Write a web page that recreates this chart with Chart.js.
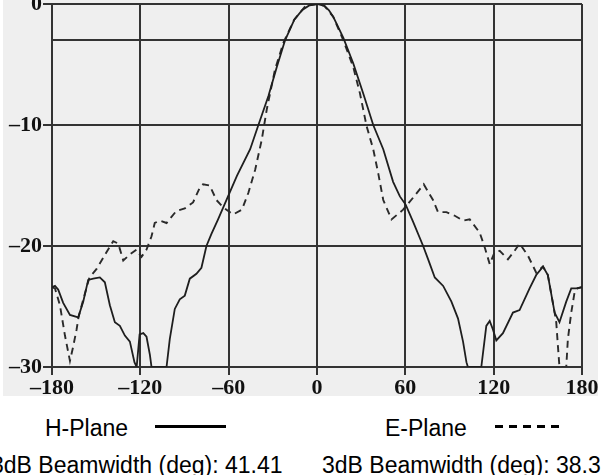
<!DOCTYPE html>
<html>
<head>
<meta charset="utf-8">
<script src="https://cdn.jsdelivr.net/npm/chart.js@4/dist/chart.umd.min.js"></script>
<style>
  html, body { margin: 0; padding: 0; background: #ffffff; width: 604px; height: 475px; overflow: hidden; position: relative; }
  #paper { position: absolute; left: 3px; top: 0; width: 595px; height: 396px; background: #efefef; }
  #c { position: absolute; left: 0; top: 0; }
  .txt { position: absolute; font-family: "Liberation Sans", Arial, sans-serif; font-size: 23px; color: #000; white-space: nowrap; line-height: 23px; }
  .solidSample { position: absolute; left: 155px; top: 425px; width: 71px; height: 3px; background: #000; }
  .dashSample { position: absolute; left: 495px; top: 425px; width: 64px; height: 3px;
    background: repeating-linear-gradient(to right, #000 0 8px, transparent 8px 14px); }
</style>
</head>
<body>
<div id="paper"></div>
<canvas id="c" width="604" height="400"></canvas>
<div class="txt" style="left:45px; top:417px;">H-Plane</div>
<div class="solidSample"></div>
<div class="txt" style="left:385px; top:417px;">E-Plane</div>
<div class="dashSample"></div>
<div class="txt" style="left:-9px; top:454px;">3dB Beamwidth (deg): 41.41</div>
<div class="txt" style="left:322px; top:454px;">3dB Beamwidth (deg): 38.3</div>
<script>
// Angle (deg) and level (dB)
const hAngles = [-180,-178,-175.8,-172.4,-167.8,-162.2,-158.8,-155.4,-152,-147.5,-144.1,-140.7,-137.3,-133.9,-130.5,-127.1,-124,-122.5,-120.5,-118,-115.8,-113.5,-112.4,-102.2,-100,-96.6,-93.2,-89.8,-86.4,-81.9,-78.5,-75.1,-71.7,-67.2,-60.8,-54.4,-45.4,-39.8,-33,-27.3,-21.7,-15.4,-10,-5,0,5,8,11,17.9,24.6,31.4,38.2,45,51.7,56.3,60.3,65.3,72.1,75.5,80,85.7,91.3,95.8,99.2,101.5,102.5,111.6,115,117.3,119.5,121.8,126.3,133.1,137.6,144.4,148.9,153.5,156.8,161.4,164.7,169.3,172.7,176.1,180];
const hValues = [-23.4,-23.3,-23.6,-24.7,-25.7,-25.9,-24.6,-22.8,-22.7,-22.6,-23.0,-24.9,-26.3,-26.6,-27.4,-27.9,-29.6,-30,-27.3,-27.2,-27.5,-29.0,-30,-30,-27.7,-25.2,-24.4,-24.1,-22.7,-22.3,-21.8,-20.0,-19.0,-17.8,-16.0,-14.2,-12.0,-10.0,-7.6,-5.2,-3.0,-1.3,-0.5,-0.1,0,-0.15,-0.5,-1.05,-2.8,-4.9,-7.4,-10.0,-12.0,-14.7,-15.9,-16.6,-18.0,-20.0,-21.1,-22.6,-23.3,-24.6,-26.0,-27.9,-29.6,-30,-30,-26.6,-26.2,-26.9,-27.8,-27.2,-25.5,-25.3,-23.5,-22.4,-21.7,-22.4,-25.5,-26.3,-24.6,-23.5,-23.5,-23.4];

const eAngles = [-180,-178,-174.6,-171.2,-167.8,-165.6,-163.3,-162,-158.5,-154.6,-149.7,-142.9,-138.4,-135,-131.6,-127.1,-122.6,-119.2,-115.8,-112.4,-110.2,-106.8,-102.2,-95.5,-89.8,-84.2,-79.7,-77.4,-72.9,-68.3,-63.8,-57,-51,-46.6,-42,-37.5,-34.1,-28.5,-22.8,-15.5,-8,0,5,11,17.9,24.6,29.2,33.7,38.2,41.6,45,50.6,58.5,65.3,72.5,78.8,82.2,87.9,93.6,99.2,103.7,110.5,113.9,117.3,120.7,124.1,129.7,134.2,137.6,143.3,148.9,153.5,156.8,161.4,162.5,163.6,164.7,169.3,170.4,172.7,175,177,180];
const eValues = [-23.4,-23.5,-24.9,-27.4,-29.5,-28.3,-26.9,-25.9,-24.3,-22.6,-21.9,-20.5,-19.6,-19.8,-21.2,-20.7,-20.3,-20.9,-20.3,-19.2,-18.1,-17.9,-18.1,-17.1,-16.9,-16.4,-15.2,-14.9,-15.0,-16.2,-16.8,-17.4,-17.0,-15.6,-13.7,-11.2,-8.7,-5.4,-3.2,-1.3,-0.2,0,-0.15,-1.05,-3.0,-5.2,-7.4,-10.1,-12.0,-14.0,-16.2,-17.8,-17.0,-16.0,-14.9,-16.2,-17.2,-17.2,-17.5,-17.9,-17.8,-18.9,-20.1,-21.5,-20.5,-20.4,-21.1,-20.4,-19.8,-20.8,-22.2,-21.7,-22.4,-25.5,-26.3,-28.2,-30,-30,-27.7,-25.5,-23.8,-23.5,-23.4];

const xTicks = [-180, -120, -60, 0, 60, 120, 180];
const yTicks = [-30, -20, -10, -3, 0];
const yLabelled = [-30, -20, -10, 0];

const seriesNames = ['H-Plane', 'E-Plane'];

function pts(a, v) { return a.map((x, i) => ({ x: x, y: v[i] })); }
function fmt(v) { return v < 0 ? '\u2013' + Math.abs(v) : String(v); }

const gridColor = '#333333';

new Chart(document.getElementById('c'), {
  type: 'line',
  data: {
    datasets: [
      { label: seriesNames[0], data: pts(hAngles, hValues), borderColor: '#1e1e1e', borderWidth: 1.8, pointRadius: 0, tension: 0, fill: false },
      { label: seriesNames[1], data: pts(eAngles, eValues), borderColor: '#2a2a2a', borderWidth: 1.9, borderDash: [7, 5], pointRadius: 0, tension: 0, fill: false }
    ]
  },
  options: {
    responsive: false,
    animation: false,
    devicePixelRatio: 1,
    layout: { padding: { top: 4, right: 22, left: 0, bottom: 0 } },
    plugins: { legend: { display: false }, tooltip: { enabled: false }, title: { display: false } },
    scales: {
      x: {
        type: 'linear', min: -180, max: 180,
        afterBuildTicks: s => { s.ticks = xTicks.map(v => ({ value: v })); },
        afterFit: s => { s.height = 33; s.paddingLeft = 0; s.paddingRight = 0; s.paddingTop = 0; s.paddingBottom = 0; },
        ticks: { callback: v => fmt(v), color: '#111', padding: 0, maxRotation: 0, autoSkip: false,
                 font: { family: '"Liberation Serif", "Times New Roman", serif', size: 22, weight: 'bold' } },
        grid: { color: gridColor, lineWidth: 2, tickLength: 8, tickColor: gridColor, tickWidth: 2, drawOnChartArea: true },
        border: { display: true, color: gridColor, width: 2 }
      },
      y: {
        type: 'linear', min: -30, max: 0,
        afterBuildTicks: s => { s.ticks = yTicks.map(v => ({ value: v })); },
        afterFit: s => { s.width = 52; s.paddingTop = 0; s.paddingBottom = 0; s.paddingLeft = 0; s.paddingRight = 0; },
        ticks: { callback: v => (yLabelled.includes(v) ? fmt(v) : ''), color: '#111', padding: 1, autoSkip: false,
                 font: { family: '"Liberation Serif", "Times New Roman", serif', size: 22, weight: 'bold' } },
        grid: { color: gridColor, lineWidth: 2, tickLength: 9, tickWidth: 2,
                tickColor: ctx => (ctx.tick && yLabelled.includes(ctx.tick.value) ? gridColor : 'rgba(0,0,0,0)') },
        border: { display: true, color: gridColor, width: 2 }
      }
    }
  }
});
</script>
</body>
</html>
